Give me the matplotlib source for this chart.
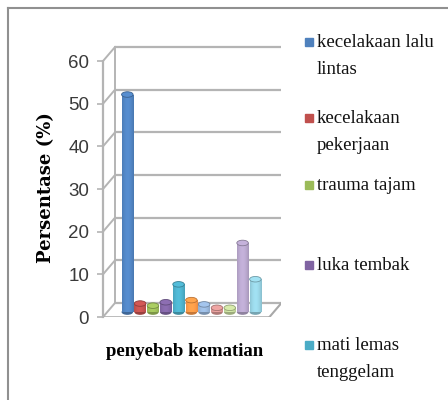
import numpy as np
import matplotlib
matplotlib.use('agg')
import matplotlib.pyplot as plt
from matplotlib.patches import Ellipse, Rectangle
from matplotlib.lines import Line2D
import matplotlib.colors as mcolors

# values (percent)
labels = ['kecelakaan lalu\nlintas', 'kecelakaan\npekerjaan', 'trauma tajam',
          'luka tembak', 'mati lemas\ntenggelam']
values = [51, 2, 1.5, 2.3, 6.5, 2.8, 1.8, 1, 1, 16.2, 7.7]
colors = ['#4F81BD', '#C0504D', '#9BBB59', '#8064A2', '#4BACC6', '#F79646',
          '#95B3D7', '#D99694', '#C3D69B', '#B3A2C7', '#93CDDD']
yticks = [0, 10, 20, 30, 40, 50, 60]

W, H = 448, 400
fig = plt.figure(figsize=(W / 100, H / 100), dpi=100)

# axes placed so data maps onto the reference pixels
x0, x1 = -1.9, 12.0
y0, y1 = 0, 64
left_px, right_px = 103, 281
bot_px, top_px = 317, 44
ax = fig.add_axes([left_px / W, 1 - bot_px / H, (right_px - left_px) / W,
                   (bot_px - top_px) / H])
ax.set_xlim(x0, x1)
ax.set_ylim(y0, y1)
ax.patch.set_alpha(0)

dx, dy = 0.94, 3.3  # depth offset of the back wall
grid_c = '#B4B4B4'

# back wall grid lines and side diagonals
for v in yticks:
    ax.plot([x0 + dx, x1], [v + dy, v + dy], color=grid_c, lw=1.6,
            solid_capstyle='butt', zorder=1)
    ax.plot([x0, x0 + dx], [v, v + dy], color=grid_c, lw=1.4, zorder=1)
ax.plot([x0 + dx, x0 + dx], [dy, 60 + dy], color=grid_c, lw=1.4, zorder=1)

# floor
fx1 = 11.1
ax.plot([x0, fx1], [0, 0], color='#A8A8A8', lw=1.8, zorder=1)
ax.plot([x0, fx1], [-0.6, -0.6], color='#C8C8C8', lw=1.0, zorder=1)
ax.plot([fx1, fx1 + dx], [0, dy], color='#A8A8A8', lw=1.5, zorder=1)

# cylinders
xs = np.arange(len(values))
bw = 0.9
base = dy * 0.35
grad = np.linspace(0, 1, 64)
shade = 0.55 + 0.45 * np.sin(np.pi * (grad * 0.85 + 0.1))
for x, v, c in zip(xs, values, colors):
    rgb = np.array(mcolors.to_rgb(c))
    bar = ax.bar(x, v, width=bw, bottom=base, color=c, zorder=3,
                 linewidth=0)[0]
    img = np.clip(rgb[None, :] * (0.65 + 0.45 * shade[:, None]), 0, 1)
    im = ax.imshow(img[None, :, :], extent=[x - bw / 2, x + bw / 2, base, base + v],
                   aspect='auto', zorder=4, interpolation='bilinear')
    im.set_clip_path(bar)
    eh = 1.3
    ax.add_patch(Ellipse((x, base), bw, eh, color=tuple(rgb * 0.8), zorder=2.9,
                         lw=0))
    top = Ellipse((x, base + v), bw, eh, facecolor=tuple(np.clip(rgb * 1.1, 0, 1)),
                  edgecolor=tuple(rgb * 0.75), lw=0.6, zorder=5)
    ax.add_patch(top)

ax.set_xlim(x0, x1)
ax.set_ylim(y0, y1)

for s in ['top', 'right', 'bottom']:
    ax.spines[s].set_visible(False)
ax.spines['left'].set_bounds(0, 60)
ax.spines['left'].set_color(grid_c)
ax.spines['left'].set_linewidth(1.6)
ax.set_xticks([])
ax.set_yticks(yticks)
ax.tick_params(axis='y', length=4, color=grid_c, width=1.2, pad=6,
               labelcolor='#3A3A3A', labelsize=13.5)
for t in ax.get_yticklabels():
    t.set_family('Liberation Sans')

# axis titles
fig.text(46 / W, 1 - 188 / H, 'Persentase (%)', rotation=90, ha='center',
         va='center', family='DejaVu Serif', weight='bold', fontsize=13)
fig.text(185 / W, 1 - 352 / H, 'penyebab kematian', ha='center', va='center',
         family='Liberation Serif', weight='bold', fontsize=13.5)

# legend (only the first five entries are visible in the reference)
leg_y = [42, 118, 185, 265, 345]
for lab, c, y in zip(labels, colors, leg_y):
    fig.patches.append(Rectangle((305 / W, 1 - (y + 4) / H), 8 / W, 8 / H,
                                 transform=fig.transFigure, color=c))
    fig.text(317 / W, 1 - (y - 8) / H, lab, ha='left', va='top',
             family='Liberation Serif', fontsize=13.5, linespacing=1.8,
             color='#111111')

# outer frame (left and top edges visible)
fig.add_artist(Line2D([8 / W, 8 / W], [0, 1 - 8 / H], color='#909090', lw=1.5,
                      transform=fig.transFigure))
fig.add_artist(Line2D([8 / W, 1], [1 - 8 / H, 1 - 8 / H], color='#909090', lw=1.5,
                      transform=fig.transFigure))

fig.savefig('out.png', dpi=100)
